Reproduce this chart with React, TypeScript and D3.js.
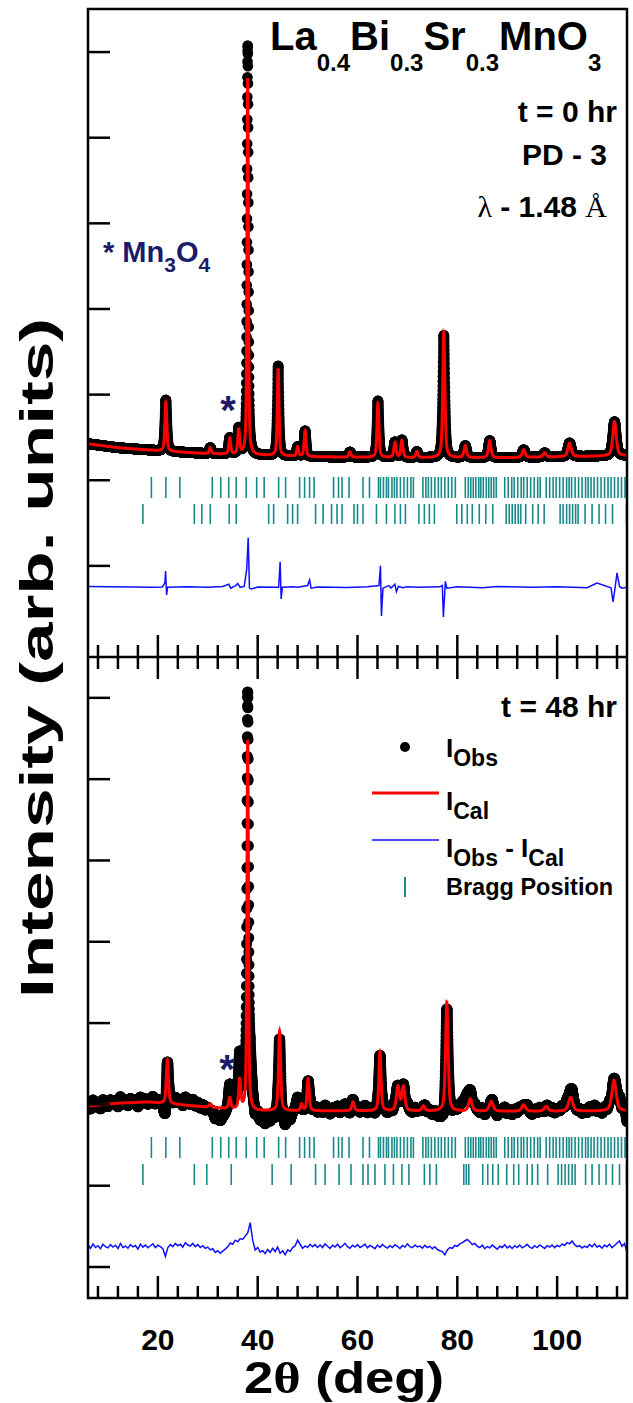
import React from 'react';
import * as d3 from 'd3';

// ---------------- data ----------------
const X_MIN = 6;
const X_MAX = 114;
const xMajorTicks = [20, 40, 60, 80, 100];
const xTickLabels = ['20', '40', '60', '80', '100'];
const topYTicks = [0, 1000, 2000, 3000, 4000, 5000, 6000];
const botYTicks = [0, 1000, 2000, 3000, 4000, 5000, 6000, 7000];

// ---- top panel (t = 0 hr) ----
const topBgPos = [6, 12, 20, 30, 50, 70, 90, 114];
const topBgVal = [1427, 1380, 1345, 1310, 1275, 1263, 1263, 1287];
const topPeakPos = [21.6, 30.5, 34.4, 36.2, 38.0, 44.1, 48.0, 49.5, 58.5, 64.1, 67.5, 68.9, 71.9, 77.3, 81.6, 86.5, 93.3, 97.5, 102.5, 111.5];
const topCalcAmp = [573, 70, 187, 281, 4400, 1018, 110, 304, 60, 632, 175, 200, 70, 1462, 140, 200, 90, 50, 160, 400];
const topObsAmp = [600, 70, 190, 300, 4780, 1050, 110, 300, 60, 660, 180, 205, 70, 1430, 140, 200, 90, 50, 160, 400];
const topFwhm = [0.45, 0.5, 0.45, 0.45, 0.32, 0.4, 0.45, 0.45, 0.5, 0.45, 0.5, 0.5, 0.5, 0.5, 0.6, 0.6, 0.7, 0.7, 0.8, 0.8];

const topDiffX = [6, 10, 15, 19, 20.9, 21.4, 21.55, 21.75, 21.95, 26, 30, 33, 34.2, 34.6, 35.6, 36, 36.5, 37.3, 37.8, 38.1, 38.35, 38.7, 40, 44.2, 44.5, 44.7, 44.95, 47, 48, 50.0, 50.4, 50.7, 52, 58, 62, 64.3, 64.6, 64.8, 65.1, 66.3, 66.7, 67.5, 67.8, 68.2, 69, 70, 72, 76.5, 77.0, 77.2, 77.45, 77.6, 77.9, 80, 85, 88, 95, 100, 106, 108, 110.8, 111.2, 111.6, 112.0, 112.5, 113, 114];
const topDiffY = [-240, -245, -246, -250, -246, -200, -60, -340, -250, -244, -250, -240, -215, -260, -230, -205, -250, -240, -40, 327, -260, -270, -248, -250, 47, -386, -250, -245, -250, -230, -164, -260, -248, -252, -245, -230, 0, -585, -260, -230, -260, -215, -300, -240, -255, -245, -250, -245, -230, -597, -350, -180, -260, -245, -255, -240, -250, -245, -255, -200, -255, -421, -260, -82, -240, -260, -250];

const topBraggRow1 = [18.7, 21.6, 24.4, 30.9, 32.6, 34.2, 35.7, 37.7, 39.8, 41.3, 44.2, 45.6, 48.4, 49.4, 50.4, 51.3, 55.2, 56.2, 56.9, 58.3, 61.1, 62.4,
  64.2, 64.6, 65.2, 65.8, 66.2, 66.9, 67.4, 67.9, 68.6, 69.3, 70.0, 70.7, 71.2,
  73.1, 73.7, 74.2, 74.8, 75.5, 76.2, 76.8, 77.5, 78.2, 78.9, 79.6,
  81.6, 82.2, 82.7, 83.2, 83.7, 84.3, 84.7, 85.2, 85.8, 86.3, 86.8, 87.3, 87.8,
  89.5, 90.2, 90.9, 91.4, 92.1, 92.8, 93.3, 94.0, 94.7, 95.4, 96.1, 96.6,
  97.8, 98.5, 99.2, 99.8, 100.5, 101.2, 101.9, 102.4, 102.9, 103.6, 104.3, 105.0, 105.7, 106.2, 106.8, 107.4, 108.1, 108.8, 109.5, 110.2, 110.8, 111.5, 112.2, 112.9, 113.6];
const topBraggRow2 = [17.0, 27.3, 28.8, 30.5, 34.3, 35.7, 42.2, 43.2, 46.0, 47.0, 48.0, 51.6, 53.1, 54.8, 55.9, 56.9, 59.3, 60.0, 61.1, 63.8, 65.8, 67.5, 68.6, 69.6, 72.3, 73.4, 74.4, 75.4, 79.9, 80.9, 82.0, 83.0, 84.4, 85.7, 87.1,
  89.8, 90.4, 91.0, 91.6, 92.2, 92.7, 93.7, 95.1, 96.2, 97.4, 100.6, 101.2, 101.9, 102.5, 103.1, 103.7, 104.2, 105.6, 107.0, 108.4, 109.7, 111.1, 113.9];

// ---- bottom panel (t = 48 hr) ----
const botBgPos = [6, 12, 18, 31, 40, 60, 80, 100, 114];
const botBgVal = [1980, 2015, 2030, 1960, 1920, 1920, 1915, 1915, 1920];
const botPeakPos = [21.9, 30.5, 34.4, 36.4, 38.0, 44.4, 48.8, 50.1, 59.1, 64.5, 68.1, 69.2, 73.2, 77.9, 82.6, 86.8, 93.3, 97.8, 102.7, 111.4];
const botCalcAmp = [541, 40, 135, 357, 4550, 984, 80, 394, 110, 726, 295, 295, 60, 1340, 150, 120, 80, 60, 170, 380];
const botObsAmp = [570, 40, 220, 505, 4800, 1010, 80, 370, 110, 700, 300, 300, 60, 1360, 150, 120, 80, 60, 170, 380];
const botFwhm = [0.5, 0.6, 0.5, 0.5, 0.34, 0.5, 0.5, 0.5, 0.6, 0.5, 0.7, 0.7, 0.7, 0.6, 0.8, 0.9, 0.9, 0.9, 1.0, 1.0];

// difference curve, 6° .. 114° every 0.5°
const botDiffStart = 6;
const botDiffStep = 0.5;
const botDiff = [
  270, 230, 285, 240, 262, 225, 280, 250, 235, 275, 245, 268, 228, 290, 240, 258, 232, 276, 248, 265, 222, 282, 244, 270, 236, 262, 286, 240, 268,
  250, 225, 130, 240, 275, 250, 290, 262, 280, 245, 300, 270, 258, 290, 250, 275, 240, 262, 230, 245, 210, 225, 180, 200, 170, 195,
  220, 250, 295, 280, 330, 310, 350, 340, 380, 420, 545, 330,
  210, 240, 185, 200, 165, 215, 180, 230, 190, 245, 170, 200, 150, 210, 190, 240,
  260, 330, 280, 230, 260, 240, 280, 250, 275, 240,
  270, 240, 285, 255, 230, 268, 245, 280, 238, 262, 292, 250, 230, 268, 245, 275, 240, 258, 282, 236, 265, 248, 225, 270, 240, 278, 250, 232, 262, 240, 275, 255, 228, 265, 245, 285, 250, 238, 270, 246, 258, 232, 268, 240, 255, 225, 248, 215, 200, 190,
  150, 210, 240, 230, 265, 255, 285, 300, 320, 340, 310, 275, 290, 255,
  240, 268, 225, 252, 236, 270, 245, 218, 255, 240, 275, 235, 258, 228, 262, 240, 270, 236, 255, 280, 245, 230, 262, 240, 272, 250, 228, 262, 244, 270, 238, 265, 250, 282, 268, 300, 285, 320, 275, 250, 262, 235, 258, 240, 275, 250, 285, 246, 262, 232, 270, 248, 282, 238, 265, 295, 320, 255, 290, 180,
];

const botBraggRow1 = topBraggRow1;
const botBraggRow2 = [17.0, 27.3, 29.8, 34.7, 42.9, 46.7, 51.6, 53.5, 56.3, 58.7, 61.1, 62.1, 63.5, 65.5, 67.2, 68.9, 70.3, 73.4, 74.5, 75.8, 81.3, 81.8, 82.3, 85.1, 86.1, 87.1, 88.2, 89.9, 91.3, 92.3, 94.0, 95.0, 96.1, 98.1, 100.2, 100.9, 101.6, 102.3, 103.0, 103.6, 105.7, 107.0, 108.4, 109.8, 111.1, 112.5, 113.9];

// ---------------- helpers ----------------
function interp(x: number, px: number[], pv: number[]) {
  if (x <= px[0]) return pv[0];
  for (let i = 0; i < px.length - 1; i++) {
    if (x <= px[i + 1]) {
      const t = (x - px[i]) / (px[i + 1] - px[i]);
      return pv[i] + t * (pv[i + 1] - pv[i]);
    }
  }
  return pv[pv.length - 1];
}
function pattern(x: number, bgP: number[], bgV: number[], pos: number[], amp: number[], fw: number[]) {
  let y = interp(x, bgP, bgV);
  for (let i = 0; i < pos.length; i++) {
    const d = (x - pos[i]) / (fw[i] / 2);
    if (Math.abs(d) > 60) continue;
    y += amp[i] * (0.55 / (1 + d * d) + 0.45 * Math.exp(-Math.LN2 * d * d));
  }
  return y;
}

const FONT = "'Liberation Sans', Arial, Helvetica, sans-serif";
const SERIF = "'Liberation Serif', 'Times New Roman', serif";
const NAVY = '#1b1b6b';
const TEAL = '#188a8a';

export default function App() {
  const L = 88, R = 627, T = 9, M = 657, B = 1298;
  const x = d3.scaleLinear().domain([X_MIN, X_MAX]).range([L, R]);
  const yTop = d3.scaleLinear().domain([-1064, 6503]).range([M, T]);
  const yBot = d3.scaleLinear().domain([-381, 7490]).range([B, M + 1]);

  const gridFine = d3.range(X_MIN, X_MAX + 0.0001, 0.015);
  const gridObs = d3.range(X_MIN, X_MAX + 0.0001, 0.015);

  const line = (yS: d3.ScaleLinear<number, number>) =>
    d3.line<[number, number]>().x(d => x(d[0])).y(d => yS(d[1]));

  const topCalc: [number, number][] = gridFine.map(g => [g, pattern(g, topBgPos, topBgVal, topPeakPos, topCalcAmp, topFwhm)]);
  const topObs: [number, number][] = gridObs.map(g => [g, pattern(g, topBgPos, topBgVal, topPeakPos, topObsAmp, topFwhm)]);
  const topDiff: [number, number][] = topDiffX.map((v, i) => [v, topDiffY[i]]);

  const botDiffX = botDiff.map((_, i) => botDiffStart + i * botDiffStep);
  const botDiffPts: [number, number][] = botDiff.map((v, i) => [botDiffX[i], v]);
  const botCalc: [number, number][] = gridFine.map(g => [g, pattern(g, botBgPos, botBgVal, botPeakPos, botCalcAmp, botFwhm)]);
  const botObs: [number, number][] = gridObs.map(g => [g, pattern(g, botBgPos, botBgVal, botPeakPos, botObsAmp, botFwhm) + 2 * (interp(g, botDiffX, botDiff) - 250)]);

  const minorTicks = d3.range(8, 114, 4).filter(v => xMajorTicks.indexOf(v) < 0);
  const MAJ = 22, MIN = 12;

  return (
    <svg width={633} height={1403} style={{ position: 'absolute', left: 0, top: 0, background: '#fff' }} fontFamily={FONT}>
      <defs>
        <clipPath id="cTop"><rect x={L} y={T} width={R - L} height={M - T} /></clipPath>
        <clipPath id="cBot"><rect x={L} y={M} width={R - L} height={B - M} /></clipPath>
      </defs>
      <rect x={0} y={0} width={633} height={1403} fill="#fff" />

      {/* ---------- top panel ---------- */}
      <g clipPath="url(#cTop)">
        {topBraggRow1.map((v, i) => (
          <line key={'tb1' + i} x1={x(v)} x2={x(v)} y1={477} y2={498} stroke={TEAL} strokeWidth={1.6} />
        ))}
        {topBraggRow2.map((v, i) => (
          <line key={'tb2' + i} x1={x(v)} x2={x(v)} y1={504} y2={524} stroke={TEAL} strokeWidth={1.6} />
        ))}
        {topObs.map((d, i) => (
          <circle key={'to' + i} cx={x(d[0])} cy={yTop(d[1])} r={5.3} fill="#000" />
        ))}
        <path d={line(yTop)(topCalc) || ''} fill="none" stroke="#ff0000" strokeWidth={3} />
        <path d={line(yTop)(topDiff) || ''} fill="none" stroke="#1010ff" strokeWidth={1.5} />
      </g>

      {/* ---------- bottom panel ---------- */}
      <g clipPath="url(#cBot)">
        {botBraggRow1.map((v, i) => (
          <line key={'bb1' + i} x1={x(v)} x2={x(v)} y1={1137} y2={1158} stroke={TEAL} strokeWidth={1.6} />
        ))}
        {botBraggRow2.map((v, i) => (
          <line key={'bb2' + i} x1={x(v)} x2={x(v)} y1={1164} y2={1185} stroke={TEAL} strokeWidth={1.6} />
        ))}
        {botObs.map((d, i) => (
          <circle key={'bo' + i} cx={x(d[0])} cy={yBot(d[1])} r={5.5} fill="#000" />
        ))}
        <path d={line(yBot)(botCalc) || ''} fill="none" stroke="#ff0000" strokeWidth={3} />
        <path d={line(yBot)(botDiffPts) || ''} fill="none" stroke="#1010ff" strokeWidth={1.5} />
      </g>

      {/* ---------- axes / frame ---------- */}
      {topYTicks.map(v => (
        <line key={'ty' + v} x1={L} x2={L + MAJ} y1={yTop(v)} y2={yTop(v)} stroke="#000" strokeWidth={2.5} />
      ))}
      {botYTicks.map(v => (
        <line key={'by' + v} x1={L} x2={L + MAJ} y1={yBot(v)} y2={yBot(v)} stroke="#000" strokeWidth={2.5} />
      ))}
      {xMajorTicks.map(v => (
        <g key={'xm' + v}>
          <line x1={x(v)} x2={x(v)} y1={M - MAJ} y2={M + MAJ} stroke="#000" strokeWidth={2.5} />
          <line x1={x(v)} x2={x(v)} y1={B - MAJ} y2={B} stroke="#000" strokeWidth={2.5} />
        </g>
      ))}
      {minorTicks.map(v => (
        <g key={'xn' + v}>
          <line x1={x(v)} x2={x(v)} y1={M - MIN} y2={M + MIN} stroke="#000" strokeWidth={2.5} />
          <line x1={x(v)} x2={x(v)} y1={B - MIN} y2={B} stroke="#000" strokeWidth={2.5} />
        </g>
      ))}
      <rect x={L} y={T} width={R - L} height={B - T} fill="none" stroke="#000" strokeWidth={2.5} />
      <line x1={L} x2={R} y1={M} y2={M} stroke="#000" strokeWidth={2.5} />

      {xMajorTicks.map((v, i) => (
        <text key={'xl' + v} x={x(v)} y={1350} textAnchor="middle" fontSize={30} fontWeight="bold">{xTickLabels[i]}</text>
      ))}
      <text x={344} y={1393} textAnchor="middle" fontSize={44} fontWeight="bold" textLength={200} lengthAdjust="spacingAndGlyphs">
        2<tspan fontFamily={SERIF}>θ</tspan> (deg)
      </text>
      <text transform="translate(53,658) rotate(-90)" textAnchor="middle" fontSize={47} fontWeight="bold" textLength={680} lengthAdjust="spacingAndGlyphs">Intensity (arb. units)</text>

      {/* ---------- annotations ---------- */}
      <text x={270} y={50} fontSize={40} fontWeight="bold">
        La<tspan fontSize={24} dy={21}>0.4</tspan>
        <tspan dy={-21}>Bi</tspan><tspan fontSize={24} dy={21}>0.3</tspan>
        <tspan dy={-21}>Sr</tspan><tspan fontSize={24} dy={21}>0.3</tspan>
        <tspan dy={-21}>MnO</tspan><tspan fontSize={24} dy={21}>3</tspan>
      </text>
      <text x={617} y={122} textAnchor="end" fontSize={30} fontWeight="bold">t = 0 hr</text>
      <text x={607} y={165} textAnchor="end" fontSize={30} fontWeight="bold">PD - 3</text>
      <text x={607} y={217} textAnchor="end" fontSize={30} fontWeight="bold">
        <tspan fontFamily={SERIF} fontWeight="normal">λ</tspan> - 1.48 <tspan fontFamily={SERIF} fontWeight="normal">Å</tspan>
      </text>
      <text x={103} y={262} fontSize={29} fontWeight="bold" fill={NAVY}>
        * Mn<tspan fontSize={21} dy={10}>3</tspan><tspan dy={-10}>O</tspan><tspan fontSize={21} dy={10}>4</tspan>
      </text>
      <text x={228} y={424} textAnchor="middle" fontSize={40} fontWeight="bold" fill={NAVY}>*</text>
      <text x={227} y={1083} textAnchor="middle" fontSize={40} fontWeight="bold" fill={NAVY}>*</text>

      <text x={617} y={717} textAnchor="end" fontSize={30} fontWeight="bold">t = 48 hr</text>

      {/* legend */}
      <circle cx={405} cy={747} r={5} fill="#000" />
      <text x={446} y={757} fontSize={26} fontWeight="bold">I<tspan fontSize={23} dy={9}>Obs</tspan></text>
      <line x1={372} x2={439} y1={793} y2={793} stroke="#ff0000" strokeWidth={3} />
      <text x={446} y={810} fontSize={26} fontWeight="bold">I<tspan fontSize={23} dy={9}>Cal</tspan></text>
      <line x1={372} x2={439} y1={840} y2={840} stroke="#1010ff" strokeWidth={1.5} />
      <text x={446} y={857} fontSize={26} fontWeight="bold">I<tspan fontSize={23} dy={9}>Obs</tspan><tspan dy={-9}> - I</tspan><tspan fontSize={23} dy={9}>Cal</tspan></text>
      <line x1={405} x2={405} y1={877} y2={897} stroke={TEAL} strokeWidth={2} />
      <text x={446} y={895} fontSize={23.5} fontWeight="bold">Bragg Position</text>
    </svg>
  );
}
